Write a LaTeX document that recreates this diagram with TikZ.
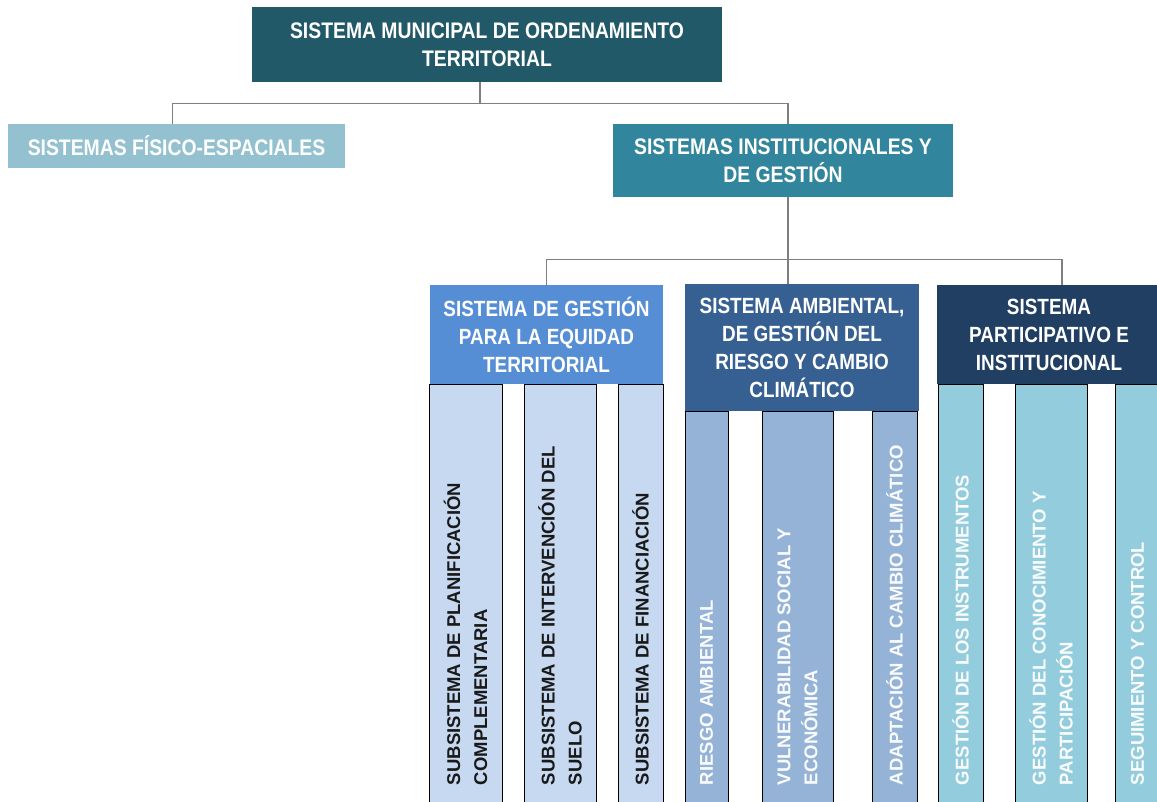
\documentclass[tikz,border=0pt]{standalone}
\usepackage{fontspec}
\setmainfont{Liberation Sans}
\newfontfamily\narrowfont[FakeStretch=0.86]{Liberation Sans}
\usepackage{tikz}
\usetikzlibrary{positioning}
\definecolor{topteal}{HTML}{215968}
\definecolor{fisblue}{HTML}{93C1D0}
\definecolor{instteal}{HTML}{31859C}
\definecolor{eqblue}{HTML}{558ED5}
\definecolor{ambblue}{HTML}{376092}
\definecolor{parnavy}{HTML}{203F62}
\definecolor{eqcol}{HTML}{C6D9F1}
\definecolor{ambcol}{HTML}{95B3D7}
\definecolor{parcol}{HTML}{93CDDD}
\definecolor{linkgray}{HTML}{7F7F7F}
\tikzset{
  hdr/.style={fill=#1, text=white, align=center, inner sep=0pt,
    font=\narrowfont\bfseries\fontsize{22.5}{28}\selectfont},
  subhdr/.style={hdr=#1, font=\narrowfont\bfseries\fontsize{22}{28}\selectfont},
  colbox/.style={fill=#1, draw=black, line width=1pt, rotate=90, align=flush left,
    inner xsep=21pt, inner ysep=0pt, font=\bfseries\fontsize{18.5}{27}\selectfont},
  link/.style={draw=linkgray, line width=1.2pt}
}

\begin{document}
\begin{tikzpicture}[x=1pt,y=-1pt]
    \useasboundingbox (0,0) rectangle (1157,802);
    \clip (0,0) rectangle (1157,802);

    % headers
    \node [hdr=topteal, minimum width=470, minimum height=75] (top) at (487,44.5) {SISTEMA MUNICIPAL DE ORDENAMIENTO\\TERRITORIAL};
    \node [hdr=fisblue, minimum width=337, minimum height=44] (fis) at (176.5,146) {SISTEMAS FÍSICO-ESPACIALES};
    \node [hdr=instteal, minimum width=340, minimum height=73] (inst) at (783,160.5) {SISTEMAS INSTITUCIONALES Y\\DE GESTIÓN};
    \node [subhdr=eqblue, minimum width=233, minimum height=98] (eq) at (546.5,334.5) {SISTEMA DE GESTIÓN\\PARA LA EQUIDAD\\TERRITORIAL};
    \node [subhdr=ambblue, minimum width=234, minimum height=126] (amb) at (802,347.5) {SISTEMA AMBIENTAL,\\DE GESTIÓN DEL\\RIESGO Y CAMBIO\\CLIMÁTICO};
    \node [subhdr=parnavy, minimum width=224, minimum height=98] (par) at (1049,334.5) {SISTEMA\\PARTICIPATIVO E\\INSTITUCIONAL};

    % subsistemas
    \node [colbox=eqcol, text=black!90, minimum width=422, text width=380, minimum height=73] (plan) at (465.5,595) {SUBSISTEMA DE PLANIFICACIÓN\\COMPLEMENTARIA};
    \node [colbox=eqcol, text=black!90, minimum width=422, text width=380, minimum height=72] (suelo) at (560,595) {SUBSISTEMA DE INTERVENCIÓN DEL\\SUELO};
    \node [colbox=eqcol, text=black!90, minimum width=422, text width=380, minimum height=45] (fin) at (640.5,595) {SUBSISTEMA DE FINANCIACIÓN};
    \node [colbox=ambcol, text=white!95!ambcol, minimum width=395, text width=353, minimum height=43] (riesgo) at (706.5,608.5) {RIESGO AMBIENTAL};
    \node [colbox=ambcol, text=white!95!ambcol, minimum width=395, text width=353, minimum height=71] (vuln) at (797.5,608.5) {VULNERABILIDAD SOCIAL Y\\ECONÓMICA};
    \node [colbox=ambcol, text=white!95!ambcol, minimum width=395, text width=353, minimum height=45] (adapt) at (894.5,608.5) {ADAPTACIÓN AL CAMBIO CLIMÁTICO};
    \node [colbox=parcol, text=white!95!parcol, minimum width=422, text width=380, minimum height=45] (instr) at (960.5,595) {GESTIÓN DE LOS INSTRUMENTOS};
    \node [colbox=parcol, text=white!95!parcol, minimum width=422, text width=380, minimum height=72] (conoc) at (1051,595) {GESTIÓN DEL CONOCIMIENTO Y\\PARTICIPACIÓN};
    \node [colbox=parcol, text=white!95!parcol, minimum width=422, text width=380, minimum height=45] (seg) at (1137.5,595) {SEGUIMIENTO Y CONTROL};

    % connectors
    \draw [link] ([xshift=-7pt]top.south) -- ++(0,21) -| ([xshift=-4pt]fis.north);
    \draw [link] ([xshift=-7pt]top.south) -- ++(0,21) -| ([xshift=5pt]inst.north);
    \draw [link] ([xshift=5pt]inst.south) -- ([xshift=5pt]inst.south |- amb.north);
    \draw [link] ([xshift=5pt]inst.south) -- ++(0,62) -| (eq.north);
    \draw [link] ([xshift=5pt]inst.south) -- ++(0,62) -| ([xshift=13pt]par.north);
\end{tikzpicture}
\end{document}
